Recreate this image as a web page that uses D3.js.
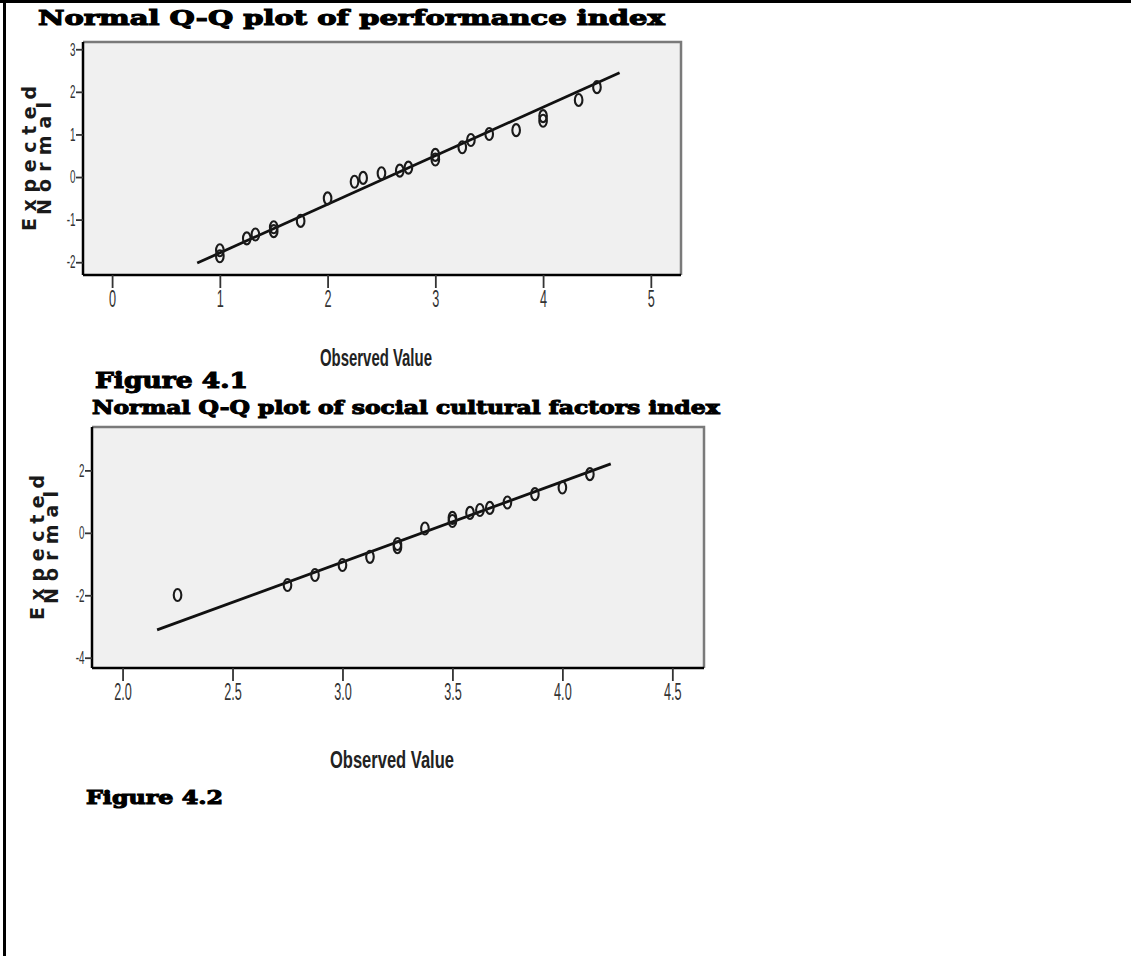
<!DOCTYPE html>
<html>
<head>
<meta charset="utf-8">
<script src="https://cdn.jsdelivr.net/npm/d3@7"></script>
<style>
  body { margin: 0; background: #fff; }
  svg { display: block; }
</style>
</head>
<body>
<div id="chart"></div>
<script>
// Figure 4.1 - performance index (observed value vs expected normal)
const perfObserved = [1, 1, 1.25, 1.33, 1.5, 1.5, 1.75, 2, 2.25, 2.33, 2.5, 2.67, 2.75, 3, 3, 3.25, 3.33, 3.5, 3.75, 4, 4, 4.33, 4.5];
const perfExpected = [-1.86, -1.72, -1.44, -1.35, -1.27, -1.18, -1.03, -0.5, -0.11, -0.02, 0.09, 0.15, 0.22, 0.41, 0.52, 0.70, 0.87, 1.01, 1.10, 1.32, 1.43, 1.81, 2.11];
const perfLineObserved = [0.79, 4.71];
const perfLineExpected = [-2.02, 2.45];
const perfXTicks = [0, 1, 2, 3, 4, 5];
const perfXLabels = ["0", "1", "2", "3", "4", "5"];
const perfYTicks = [-2, -1, 0, 1, 2, 3];
const perfYLabels = ["-2", "-1", "0", "1", "2", "3"];

// Figure 4.2 - social cultural factors index
const socObserved = [2.25, 2.75, 2.875, 3.0, 3.125, 3.25, 3.25, 3.375, 3.5, 3.5, 3.58, 3.625, 3.67, 3.75, 3.875, 4.0, 4.125];
const socExpected = [-1.99, -1.67, -1.35, -1.03, -0.77, -0.46, -0.36, 0.14, 0.38, 0.48, 0.64, 0.73, 0.80, 0.97, 1.24, 1.45, 1.88];
const socLineObserved = [2.157, 4.22];
const socLineExpected = [-3.11, 2.21];
const socXTicks = [2.0, 2.5, 3.0, 3.5, 4.0, 4.5];
const socXLabels = ["2.0", "2.5", "3.0", "3.5", "4.0", "4.5"];
const socYTicks = [-4, -2, 0, 2];
const socYLabels = ["-4", "-2", "0", "2"];

const width = 1131, height = 956;
const headFont = "'DejaVu Serif', 'Liberation Serif', serif";
const narrowFont = "'Liberation Sans Narrow', 'Liberation Sans', sans-serif";
const squeeze = 0.55; // horizontal squeeze of the condensed tick labels

const svg = d3.select("#chart").append("svg")
  .attr("width", width)
  .attr("height", height);

// page border (top and left only)
svg.append("line").attr("x1", 0).attr("x2", width).attr("y1", 1.5).attr("y2", 1.5)
  .attr("stroke", "#000").attr("stroke-width", 3);
svg.append("line").attr("x1", 4.5).attr("x2", 4.5).attr("y1", 0).attr("y2", height)
  .attr("stroke", "#000").attr("stroke-width", 3);

// text squeezed / stretched horizontally to a target width
function fitText(text, x, y, len, opts) {
  const t = svg.append("text")
    .attr("font-family", opts.font)
    .attr("font-weight", opts.weight || "normal")
    .attr("font-size", opts.size)
    .attr("fill", opts.fill || "#000")
    .attr("stroke", opts.stroke ? (opts.fill || "#000") : null)
    .attr("stroke-width", opts.stroke || null)
    .text(text);
  const w = t.node().getComputedTextLength();
  const sx = len / w;
  const x0 = opts.anchor === "middle" ? x - len / 2 : x;
  t.attr("transform", `translate(${x0},${y}) scale(${sx},1)`);
  return t;
}

function heading(text, x, y, len, size) {
  fitText(text, x, y, len, { font: headFont, weight: "bold", size: size, stroke: 1.1 });
}

function drawPanel(cfg) {
  const x = d3.scaleLinear().domain(cfg.xDomain).range([cfg.left, cfg.right]);
  const y = d3.scaleLinear().domain(cfg.yDomain).range([cfg.bottom, cfg.top]);
  const g = svg.append("g");

  // plot background
  g.append("rect")
    .attr("x", cfg.left).attr("y", cfg.top)
    .attr("width", cfg.right - cfg.left).attr("height", cfg.bottom - cfg.top)
    .attr("fill", "#f0f0f0");

  // top and right frame edges
  g.append("path")
    .attr("d", `M${cfg.left},${cfg.top}H${cfg.right}V${cfg.bottom}`)
    .attr("fill", "none").attr("stroke", "#7a7a7a").attr("stroke-width", 2.5);

  // x axis
  const xAxis = g.append("g")
    .attr("transform", `translate(0,${cfg.bottom})`)
    .call(d3.axisBottom(x).tickValues(cfg.xTicks).tickSize(13).tickPadding(3)
      .tickFormat((d, i) => cfg.xLabels[i]));
  xAxis.select(".domain").attr("stroke", "#000").attr("stroke-width", 2.5)
    .attr("d", `M${cfg.left},0H${cfg.right}`);
  xAxis.selectAll(".tick line").attr("stroke", "#333").attr("stroke-width", 1.8);
  xAxis.selectAll(".tick text")
    .attr("font-family", narrowFont)
    .attr("font-size", 23)
    .attr("fill", "#333")
    .attr("transform", `scale(${squeeze},1)`);

  // y axis
  const yAxis = g.append("g")
    .attr("transform", `translate(${cfg.left},0)`)
    .call(d3.axisLeft(y).tickValues(cfg.yTicks).tickSize(7)
      .tickFormat((d, i) => cfg.yLabels[i]));
  yAxis.select(".domain").attr("stroke", "#000").attr("stroke-width", 2.5)
    .attr("d", `M0,${cfg.top}V${cfg.bottom}`);
  yAxis.selectAll(".tick line").attr("stroke", "#333").attr("stroke-width", 1.8);
  yAxis.selectAll(".tick text")
    .attr("font-family", narrowFont)
    .attr("font-size", 18)
    .attr("fill", "#333")
    .attr("x", -7.5 / squeeze)
    .attr("transform", `scale(${squeeze},1)`);

  // reference line
  const lineData = cfg.lineX.map((v, i) => [v, cfg.lineY[i]]);
  g.append("path")
    .datum(lineData)
    .attr("d", d3.line().x(d => x(d[0])).y(d => y(d[1])))
    .attr("fill", "none").attr("stroke", "#111").attr("stroke-width", 2.8);

  // points
  const pts = cfg.obs.map((v, i) => ({ o: v, e: cfg.exp[i] }));
  g.selectAll("ellipse.pt")
    .data(pts)
    .enter().append("ellipse")
    .attr("class", "pt")
    .attr("cx", d => x(d.o))
    .attr("cy", d => y(d.e))
    .attr("rx", 3.8)
    .attr("ry", 6)
    .attr("fill", "none")
    .attr("stroke", "#1a1a1a")
    .attr("stroke-width", 2.1);

  // y axis title (two lines)
  const cy = (cfg.top + cfg.bottom) / 2;
  [["Expected", cfg.yLab1, 145], ["Normal", cfg.yLab2, 113]].forEach(([t, bx, len]) => {
    svg.append("text")
      .attr("transform", `translate(${bx},${cy}) rotate(-90)`)
      .attr("text-anchor", "middle")
      .attr("font-family", "'DejaVu Sans', sans-serif")
      .attr("font-weight", "bold")
      .attr("font-size", 19)
      .attr("textLength", len)
      .attr("lengthAdjust", "spacing")
      .attr("fill", "#1a1a1a")
      .text(t);
  });

  // x axis title
  fitText("Observed Value", (cfg.left + cfg.right) / 2 - 6, cfg.xTitleY, cfg.xTitleLen,
    { font: narrowFont, weight: "bold", size: 23, fill: "#222", anchor: "middle" });
}

heading("Normal Q-Q plot of performance index", 38, 25, 627, 21);

drawPanel({
  left: 83, right: 681, top: 42, bottom: 275,
  xDomain: [-0.27, 5.28], yDomain: [-2.3, 3.17],
  xTicks: perfXTicks, xLabels: perfXLabels,
  yTicks: perfYTicks, yLabels: perfYLabels,
  obs: perfObserved, exp: perfExpected,
  lineX: perfLineObserved, lineY: perfLineExpected,
  yLab1: 36, yLab2: 51, xTitleY: 366, xTitleLen: 112
});

heading("Figure 4.1", 95, 388, 153, 22);
heading("Normal Q-Q plot of social cultural factors index", 92, 414, 628, 19);

drawPanel({
  left: 92, right: 704, top: 427, bottom: 668,
  xDomain: [1.861, 4.644], yDomain: [-4.33, 3.39],
  xTicks: socXTicks, xLabels: socXLabels,
  yTicks: socYTicks, yLabels: socYLabels,
  obs: socObserved, exp: socExpected,
  lineX: socLineObserved, lineY: socLineExpected,
  yLab1: 44, yLab2: 58, xTitleY: 768, xTitleLen: 124
});

heading("Figure 4.2", 86, 804, 137, 19);
</script>
</body>
</html>
